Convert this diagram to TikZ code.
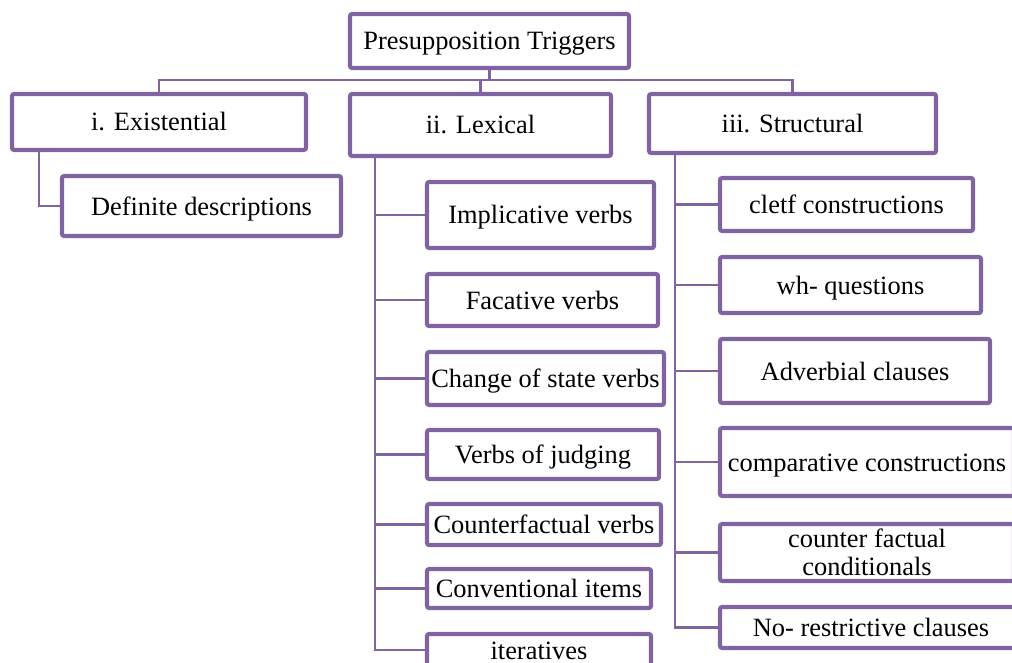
\documentclass[tikz,border=0pt]{standalone}
\usepackage{fontspec}
\setmainfont{Liberation Serif}
\usetikzlibrary{calc}
\definecolor{trigpurple}{RGB}{128,100,162}
\tikzstyle{boxnode} = [draw=trigpurple, line width=2.9pt, fill=white, rectangle, rounded corners=1.5pt, inner sep=0pt, align=center, font=\fontsize{18.8}{20}\selectfont]
\tikzstyle{oneline} = [boxnode, text height=12.8pt, text depth=0pt]
\tikzstyle{link} = [draw=trigpurple, line width=1.5pt]
\tikzset{sz/.style 2 args={minimum width=#1*0.025cm, minimum height=#2*0.025cm}}

\begin{document}
\begin{tikzpicture}[x=0.025cm, y=-0.025cm]
  \useasboundingbox (0,0) rectangle (1012,663);
  \node[oneline, sz={279}{54}] (root) at (489.5,41) {Presupposition Triggers};

  \node[oneline, sz={294}{56}] (exist) at (159,122) {i. Existential};
  \node[oneline, sz={261}{62}] (lex) at (480.5,125) {ii. Lexical};
  \node[oneline, sz={287}{59}] (struct) at (792.5,123.5) {iii. Structural};

  \node[oneline, sz={279}{60}] (defdesc) at (201.5,206) {Definite descriptions};

  \node[oneline, sz={227}{66}] (impl) at (540.5,215) {Implicative verbs};
  \node[oneline, sz={231}{52}] (fact) at (542.5,300) {Facative verbs};
  \node[oneline, sz={237}{53}] (change) at (545.5,378.5) {Change of state verbs};
  \node[oneline, sz={232}{49}] (judge) at (543,454.5) {Verbs of judging};
  \node[oneline, sz={234}{41}] (cfact) at (544,524.5) {Counterfactual verbs};
  \node[oneline, sz={224}{39}] (conv) at (539,588.5) {Conventional items};
  \node[oneline, sz={224}{32}] (iter) at (539,650) {iteratives};

  \node[oneline, sz={253}{53}] (cleft) at (846.5,204.5) {cletf constructions};
  \node[oneline, sz={261}{56}] (wh) at (850.5,285) {wh- questions};
  \node[oneline, sz={270}{64}] (adv) at (855,371) {Adverbial clauses};
  \node[oneline, sz={294}{68}] (comp) at (867,462) {comparative constructions};
  \node[boxnode, sz={294}{57}] (cfcond) at (867,552.5) {counter factual\\conditionals};
  \node[oneline, sz={302}{41}] (norestr) at (871,627.5) {No- restrictive clauses};

  % top bus
  \coordinate (bus) at (489.5,80);
  \draw[link] (root.south) -- (bus);
  \draw[link] (exist.north) |- (bus) -| (struct.north);
  \draw[link] (lex.north) -- (lex.north |- bus);

  % existential
  \draw[link] ($(exist.south west)+(29,0)$) |- (defdesc.west);

  % lexical
  \coordinate (lexspine) at ($(lex.south west)+(27,0)$);
  \draw[link] (lexspine) |- (iter.west);
  \foreach \n in {impl,fact,change,judge,cfact,conv}
    \draw[link] (lexspine |- \n.west) -- (\n.west);

  % structural
  \coordinate (structspine) at ($(struct.south west)+(28,0)$);
  \draw[link] (structspine) |- (norestr.west);
  \foreach \n in {cleft,wh,adv,comp,cfcond}
    \draw[link] (structspine |- \n.west) -- (\n.west);
\end{tikzpicture}
\end{document}
